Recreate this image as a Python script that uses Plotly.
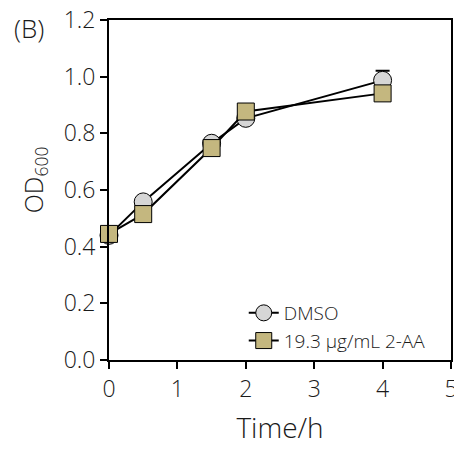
import plotly.graph_objects as go

time_h = [0, 0.5, 1.5, 2, 4]
dmso = [0.44, 0.558, 0.765, 0.853, 0.987]
dmso_err = [0.005, 0.01, 0.01, 0.01, 0.034]
aa = [0.445, 0.515, 0.748, 0.877, 0.941]
aa_err = [0.005, 0.01, 0.01, 0.01, 0.01]
x_ticks = [0, 1, 2, 3, 4, 5]
y_ticks = [0.0, 0.2, 0.4, 0.6, 0.8, 1.0, 1.2]

FONT = "Open Sans"
TXT = "#1a1a1a"
W = 350

fig = go.Figure()
fig.add_trace(go.Scatter(
    x=time_h, y=dmso, name="DMSO", mode="lines+markers", cliponaxis=False,
    line=dict(color="black", width=2),
    marker=dict(symbol="circle", size=18, color="#d6d6d6", line=dict(color="black", width=1)),
    error_y=dict(type="data", array=dmso_err, visible=True, color="black", thickness=2, width=7),
))
fig.add_trace(go.Scatter(
    x=time_h, y=aa, name="19.3 μg/mL 2-AA", mode="lines+markers", cliponaxis=False,
    line=dict(color="black", width=2),
    marker=dict(symbol="square", size=17, color="#c4b77f", line=dict(color="black", width=1)),
    error_y=dict(type="data", array=aa_err, visible=True, color="black", thickness=2, width=7),
))

# page body has an 8px margin, so the figure is 8px smaller than the window
fig.update_layout(
    width=454, height=445,
    margin=dict(l=101, r=11, t=12, b=93, autoexpand=False),
    paper_bgcolor="white", plot_bgcolor="white",
    font=dict(family=FONT, color=TXT, size=20, weight=W),
    showlegend=True,
    legend=dict(x=0.394, y=0.0, xanchor="left", yanchor="bottom",
                bgcolor="rgba(0,0,0,0)", font=dict(size=19, weight=W), tracegroupgap=0,
                itemwidth=30),
    xaxis=dict(range=[0, 5], tickvals=x_ticks, ticks="outside", ticklen=7, tickwidth=2,
               tickcolor="black", showline=True, linecolor="black", linewidth=2,
               mirror=True, showgrid=False, zeroline=False, automargin=False,
               ticklabeloverflow="allow",
               title=dict(text="Time/h", font=dict(size=28, weight=W), standoff=16),
               tickfont=dict(size=23, weight=W)),
    yaxis=dict(range=[0, 1.2], tickvals=y_ticks, tickformat=".1f", ticks="outside",
               ticklen=7, tickwidth=2, tickcolor="black", showline=True,
               linecolor="black", linewidth=2, mirror=True, showgrid=False,
               zeroline=False, automargin=False, ticklabeloverflow="allow",
               tickfont=dict(size=23, weight=W)),
)
fig.add_annotation(text="OD<sub>600</sub>", x=-0.219, y=0.529, xref="paper", yref="paper",
                   showarrow=False, textangle=-90,
                   font=dict(size=25, family=FONT, color=TXT, weight=W),
                   xanchor="center", yanchor="middle")
fig.add_annotation(text="(B)", x=-0.284, y=1.036, xref="paper", yref="paper", showarrow=False,
                   font=dict(size=26, family=FONT, color=TXT, weight=W),
                   xanchor="left", yanchor="top")

fig.write_html("out.html")
